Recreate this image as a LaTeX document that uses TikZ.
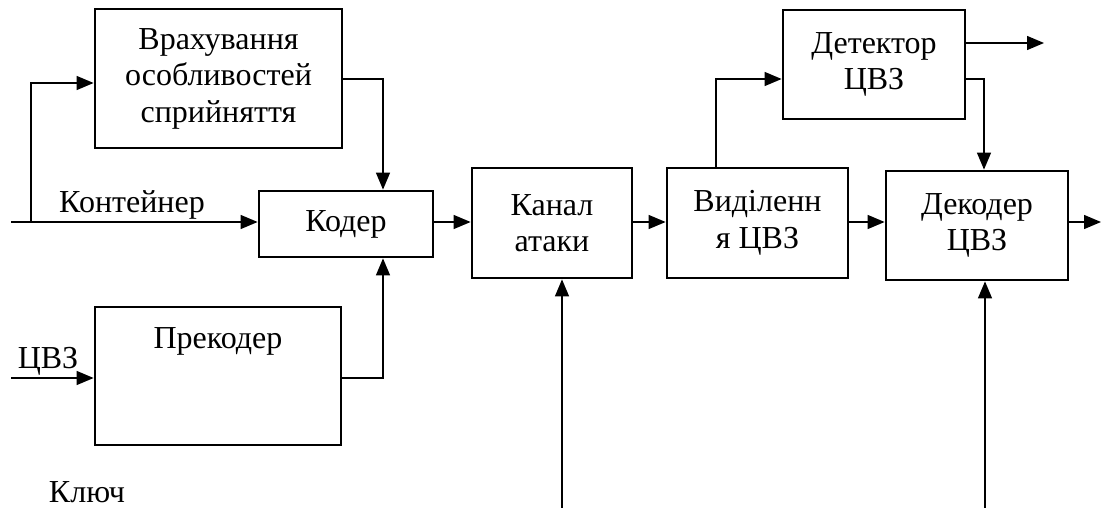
\documentclass[tikz,border=0pt]{standalone}
\usepackage{fontspec}
\setmainfont{Liberation Serif}
\usetikzlibrary{arrows.meta}
\begin{document}
\begin{tikzpicture}[x=1pt,y=-1pt,
  blk/.style={draw,line width=2.8pt,inner sep=0pt,align=center,font=\fontsize{32}{36.5}\selectfont},
  lbl/.style={inner sep=0pt,font=\fontsize{32}{36.5}\selectfont},
  conn/.style={line width=1.4pt,-{Triangle[length=17pt,width=14pt]}},
  wire/.style={line width=1.4pt}]
\useasboundingbox (0,0) rectangle (1101,508);
% blocks
\node[blk,minimum width=247pt,minimum height=139pt] (vr) at (218.5,78.5) {Врахування\\особливостей\\сприйняття};
\node[blk,minimum width=174pt,minimum height=66pt] (kod) at (346,224) {Кодер};
\node[blk,minimum width=160pt,minimum height=110pt] (kan) at (552,223) {Канал\\атаки};
\node[blk,minimum width=181pt,minimum height=110pt] (vid) at (757.5,223) {Виділенн\\я ЦВЗ};
\node[blk,minimum width=182pt,minimum height=109pt] (det) at (874,64.5) {Детектор\\ЦВЗ};
\node[blk,minimum width=182pt,minimum height=109pt] (dek) at (977,225.5) {Декодер\\ЦВЗ};
\node[blk,minimum width=246pt,minimum height=138pt] (prek) at (218,376) {};
\node[lbl,anchor=base] (prekt) at (218,348) {Прекодер};
% labels
\node[lbl,anchor=base] (lcont) at (132,212) {Контейнер};
\node[lbl,anchor=base] (lcvz) at (48,368) {ЦВЗ};
\node[lbl,anchor=base] (lkey) at (87,502) {Ключ};
% helper coordinates
\coordinate (inC) at (11,222);
\coordinate (brC) at (31,222);
\coordinate (inW) at (11,378);
\coordinate (xk) at (383,0);
\coordinate (xv) at (716,0);
\coordinate (xd) at (984,0);
\coordinate (yv) at (0,79);
\coordinate (yM) at (0,222);
\coordinate (y43) at (0,43);
\coordinate (outDet) at (1044,43);
\coordinate (outDek) at (1101,222);
\coordinate (bKan) at (562,508);
\coordinate (bDek) at (985,508);
% connectors
\draw[conn] (inC) -- (kod.west |- inC);
\draw[conn] (brC) |- (vr.west |- 0,83);
\draw[conn] (vr.east |- yv) -| (kod.north -| xk);
\draw[conn] (inW) -- (prek.west |- inW);
\draw[conn] (prek.east |- inW) -| (kod.south -| xk);
\draw[conn] (kod.east |- yM) -- (kan.west |- yM);
\draw[conn] (kan.east |- yM) -- (vid.west |- yM);
\draw[conn] (vid.east |- yM) -- (dek.west |- yM);
\draw[conn] (dek.east |- yM) -- (outDek);
\draw[conn] (vid.north -| xv) |- (det.west |- yv);
\draw[conn] (det.east |- y43) -- (outDet);
\draw[conn] (det.east |- yv) -| (dek.north -| xd);
\draw[conn] (bKan) -- (kan.south -| bKan);
\draw[conn] (bDek) -- (dek.south -| bDek);
\end{tikzpicture}
\end{document}
